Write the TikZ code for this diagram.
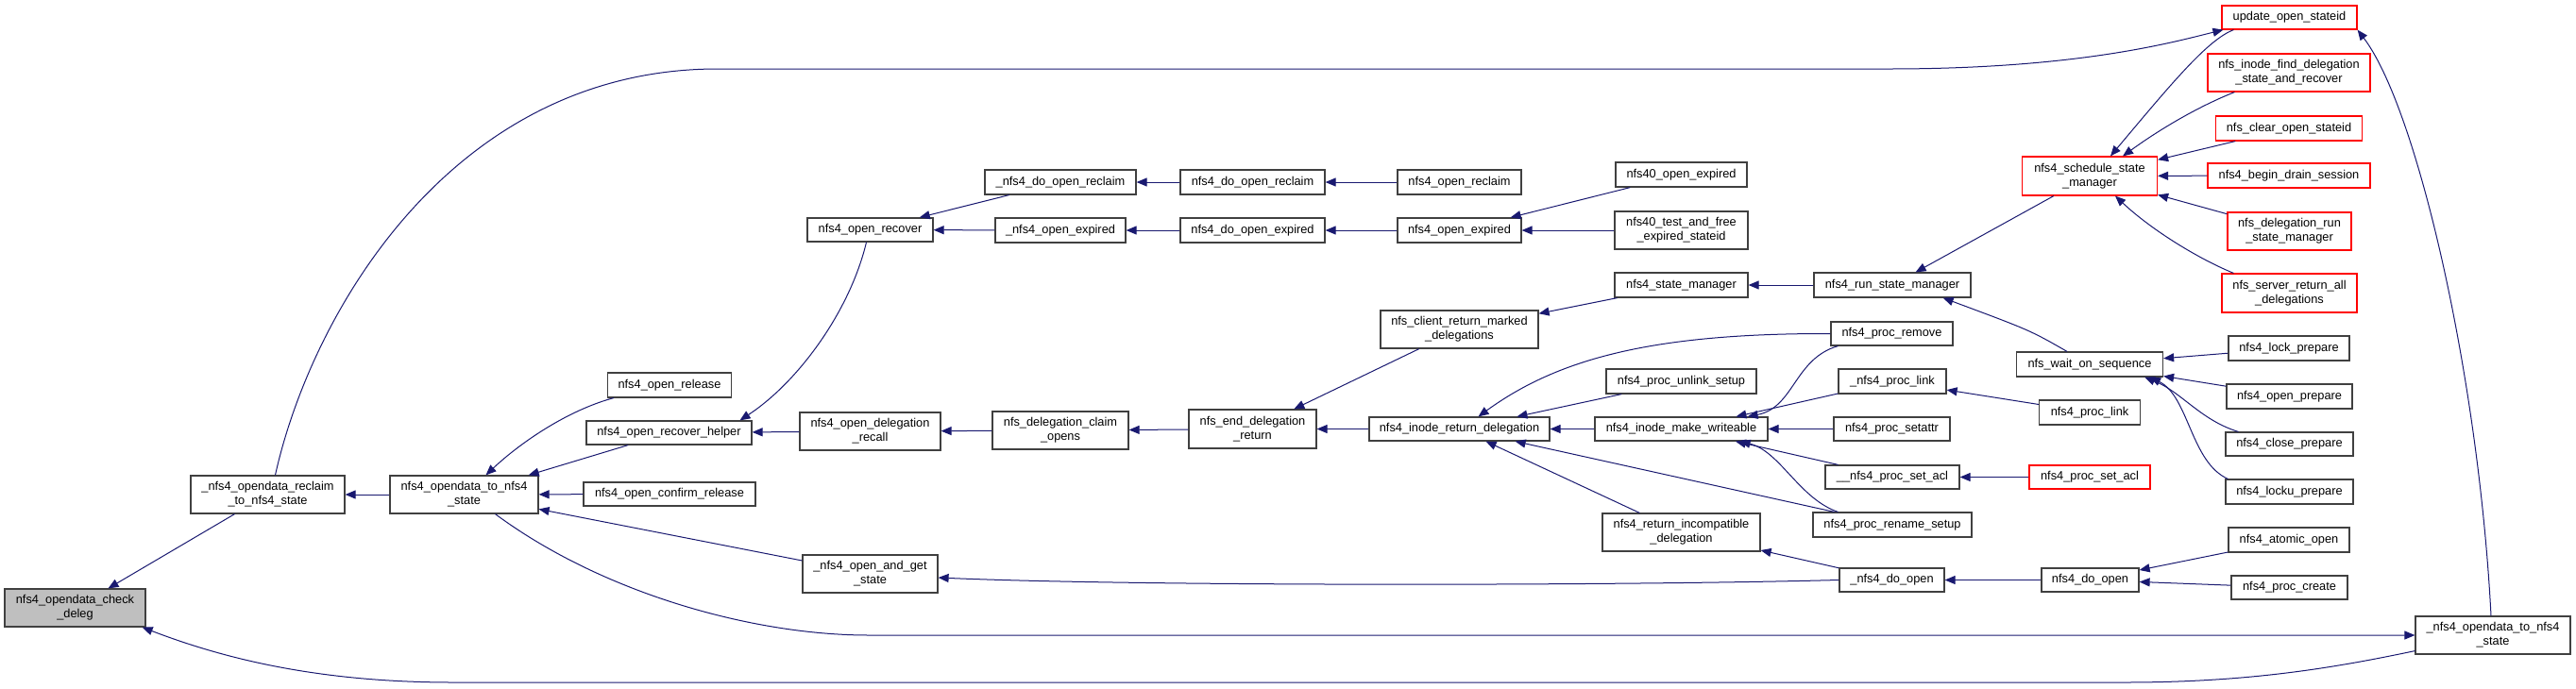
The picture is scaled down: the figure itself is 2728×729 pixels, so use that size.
\documentclass[tikz,border=0pt]{standalone}
\usepackage{fontspec}
\setmainfont{Liberation Sans}
\usetikzlibrary{arrows.meta,calc}
\definecolor{edgec}{RGB}{25,25,112}
\definecolor{boxc}{RGB}{64,64,64}
\definecolor{redc}{RGB}{255,0,0}
\definecolor{grayf}{RGB}{191,191,191}
\tikzset{
  box/.style={draw=boxc, line width=1.2pt, fill=white, inner sep=0pt, align=center,
    font=\fontsize{12.8}{15}\selectfont},
  redbox/.style={box, draw=redc},
  graybox/.style={box, fill=grayf},
  conn/.style={draw=edgec, line width=1pt, -{Triangle[length=11pt,width=9pt]}},
}
\begin{document}
\begin{tikzpicture}[x=1pt,y=-1pt]
\useasboundingbox (0,0) rectangle (2728,729);
% column 1
\node[graybox, minimum width=149pt, minimum height=40pt] (chk) at (79.5,644) {nfs4\_opendata\_check\\\_deleg};
\node[box, minimum width=163pt, minimum height=40pt] (rcl) at (283.5,524) {\_nfs4\_opendata\_reclaim\\\_to\_nfs4\_state};
\node[box, minimum width=157pt, minimum height=40pt] (o2s) at (491.5,524) {nfs4\_opendata\_to\_nfs4\\\_state};
\node[box, minimum width=131pt, minimum height=26pt] (orel) at (709,408) {nfs4\_open\_release};
\node[box, minimum width=175pt, minimum height=25pt] (orh) at (708.5,458.5) {nfs4\_open\_recover\_helper};
\node[box, minimum width=182pt, minimum height=25pt] (ocr) at (709,523.5) {nfs4\_open\_confirm\_release};
\node[box, minimum width=133pt, minimum height=25pt] (orec) at (921.5,243.5) {nfs4\_open\_recover};
\node[box, minimum width=149pt, minimum height=40pt] (odr) at (921.5,457) {nfs4\_open\_delegation\\\_recall};
\node[box, minimum width=143pt, minimum height=40pt] (oag) at (921.5,608) {\_nfs4\_open\_and\_get\\\_state};
\node[box, minimum width=160pt, minimum height=26pt] (udor) at (1123,193) {\_nfs4\_do\_open\_reclaim};
\node[box, minimum width=138pt, minimum height=26pt] (uoex) at (1123,244) {\_nfs4\_open\_expired};
\node[box, minimum width=144pt, minimum height=40pt] (dco) at (1123,456) {nfs\_delegation\_claim\\\_opens};
\node[box, minimum width=153pt, minimum height=26pt] (dor) at (1326.5,193) {nfs4\_do\_open\_reclaim};
\node[box, minimum width=153pt, minimum height=26pt] (doe) at (1326.5,244) {nfs4\_do\_open\_expired};
\node[box, minimum width=135pt, minimum height=41pt] (edr) at (1326.5,454.5) {nfs\_end\_delegation\\\_return};
\node[box, minimum width=131pt, minimum height=26pt] (orcl) at (1545.5,193) {nfs4\_open\_reclaim};
\node[box, minimum width=131pt, minimum height=26pt] (oexp) at (1545.5,244) {nfs4\_open\_expired};
\node[box, minimum width=167pt, minimum height=40pt] (crm) at (1545.5,349) {nfs\_client\_return\_marked\\\_delegations};
\node[box, minimum width=191pt, minimum height=25pt] (ird) at (1545.5,454.5) {nfs4\_inode\_return\_delegation};
\node[box, minimum width=139pt, minimum height=26pt] (o40) at (1780.5,185) {nfs40\_open\_expired};
\node[box, minimum width=141pt, minimum height=40pt] (tfs) at (1780.5,244) {nfs40\_test\_and\_free\\\_expired\_stateid};
\node[box, minimum width=141pt, minimum height=26pt] (sm) at (1780.5,302) {nfs4\_state\_manager};
\node[box, minimum width=159pt, minimum height=26pt] (pus) at (1780.5,404) {nfs4\_proc\_unlink\_setup};
\node[box, minimum width=183pt, minimum height=25pt] (imw) at (1780.5,454.5) {nfs4\_inode\_make\_writeable};
\node[box, minimum width=167pt, minimum height=40pt] (rid) at (1780.5,564) {nfs4\_return\_incompatible\\\_delegation};
\node[box, minimum width=111pt, minimum height=25pt] (udo) at (2003.5,614.5) {\_nfs4\_do\_open};
\node[box, minimum width=166pt, minimum height=26pt] (rsm) at (2004,302) {nfs4\_run\_state\_manager};
\node[box, minimum width=129pt, minimum height=25pt] (prm) at (2003.5,353.5) {nfs4\_proc\_remove};
\node[box, minimum width=114pt, minimum height=26pt] (upl) at (2004,404) {\_nfs4\_proc\_link};
\node[box, minimum width=123pt, minimum height=25pt] (psa) at (2003.5,454.5) {nfs4\_proc\_setattr};
\node[box, minimum width=142pt, minimum height=25pt] (usa) at (2004,505.5) {\_\_nfs4\_proc\_set\_acl};
\node[box, minimum width=168pt, minimum height=26pt] (prs) at (2004,556) {nfs4\_proc\_rename\_setup};
\node[redbox, minimum width=143pt, minimum height=41pt] (ssm) at (2213,186.5) {nfs4\_schedule\_state\\\_manager};
\node[box, minimum width=155pt, minimum height=26pt] (ws) at (2213,386) {nfs\_wait\_on\_sequence};
\node[box, minimum width=107pt, minimum height=26pt] (pl) at (2213,437) {nfs4\_proc\_link};
\node[redbox, minimum width=128pt, minimum height=25pt] (psb) at (2213,505.5) {nfs4\_proc\_set\_acl};
\node[box, minimum width=103pt, minimum height=25pt] (ndo) at (2213.5,614.5) {nfs4\_do\_open};
\node[redbox, minimum width=143pt, minimum height=25pt] (uos) at (2424.5,18.5) {update\_open\_stateid};
\node[redbox, minimum width=172pt, minimum height=40pt] (ifd) at (2424,77) {nfs\_inode\_find\_delegation\\\_state\_and\_recover};
\node[redbox, minimum width=155pt, minimum height=26pt] (cos) at (2424,136) {nfs\_clear\_open\_stateid};
\node[redbox, minimum width=172pt, minimum height=26pt] (bds) at (2424,186) {nfs4\_begin\_drain\_session};
\node[redbox, minimum width=131pt, minimum height=40pt] (drsm) at (2424.5,245) {nfs\_delegation\_run\\\_state\_manager};
\node[redbox, minimum width=143pt, minimum height=41pt] (sra) at (2424.5,310.5) {nfs\_server\_return\_all\\\_delegations};
\node[box, minimum width=128pt, minimum height=26pt] (lp) at (2424,369) {nfs4\_lock\_prepare};
\node[box, minimum width=133pt, minimum height=26pt] (op) at (2424.5,420) {nfs4\_open\_prepare};
\node[box, minimum width=135pt, minimum height=25pt] (cp) at (2424.5,470.5) {nfs4\_close\_prepare};
\node[box, minimum width=135pt, minimum height=26pt] (lup) at (2424.5,521) {nfs4\_locku\_prepare};
\node[box, minimum width=128pt, minimum height=26pt] (ao) at (2424,572) {nfs4\_atomic\_open};
\node[box, minimum width=123pt, minimum height=25pt] (pc) at (2424.5,622.5) {nfs4\_proc\_create};
\node[box, minimum width=164pt, minimum height=40pt] (xo2s) at (2640,673) {\_nfs4\_opendata\_to\_nfs4\\\_state};

% connectors
\draw[conn] (rcl) -- (chk);
\draw[conn] ($(xo2s.south west)+(0,-4)$) .. controls (2470,708) and (2380,723) .. (2250,723) -- (480,723) .. controls (330,723) and (230,695) .. ($(chk.south east)+(-4,0)$);
\draw[conn] (o2s) -- (rcl);
\draw[conn] ($(rcl.north)+(8,0)$) .. controls (330,330) and (480,73) .. (760,73) -- (2000,73) .. controls (2200,73) and (2300,45) .. ($(uos.south west)+(2,0)$);
\draw[conn] ($(orel.south west)+(7,0)$) .. controls (600,435) and (550,470) .. ($(o2s.north)+(23,0)$);
\draw[conn] (orh) -- (o2s);
\draw[conn] (ocr) -- (o2s);
\draw[conn] (oag) -- (o2s);
\draw[conn] ($(o2s.south)+(33,0)$) .. controls (640,630) and (800,673) .. (920,673) -- (xo2s.west);
\draw[conn] ($(orec.south)+(-4,0)$) .. controls (900,330) and (845,405) .. ($(orh.north)+(75,0)$);
\draw[conn] (odr) -- (orh);
\draw[conn] (udor) -- (orec);
\draw[conn] (uoex) -- (orec);
\draw[conn] (dco) -- (odr);
\draw[conn] (edr) -- (dco);
\draw[conn] (dor) -- (udor);
\draw[conn] (doe) -- (uoex);
\draw[conn] (orcl) -- (dor);
\draw[conn] (oexp) -- (doe);
\draw[conn] (crm) -- (edr);
\draw[conn] (ird) -- (edr);
\draw[conn] (o40) -- (oexp);
\draw[conn] (tfs) -- (oexp);
\draw[conn] (sm) -- (crm);
\draw[conn] (rsm) -- (sm);
\draw[conn] (ssm) -- (rsm);
\draw[conn] ($(ws.north)+(-24,0)$) .. controls (2150,350) .. ($(rsm.south east)+(-30,0)$);
\draw[conn] (prm.west) .. controls (1750,353) and (1650,380) .. ($(ird.north)+(20,0)$);
\draw[conn] (pus) -- (ird);
\draw[conn] (imw) -- (ird);
\draw[conn] (prs) -- (ird);
\draw[conn] (rid) -- (ird);
\draw[conn] ($(prm.south west)+(8,0)$) .. controls (1900,380) and (1900,432) .. ($(imw.north east)+(-22,0)$);
\draw[conn] (upl) -- (imw);
\draw[conn] (psa) -- (imw);
\draw[conn] (usa) -- (imw);
\draw[conn] ($(prs.north west)+(27,0)$) .. controls (1905,528) and (1885,478) .. ($(imw.south east)+(-30,0)$);
\draw[conn] (udo) -- (rid);
\draw[conn] (udo.west) .. controls (1700,621) and (1200,621) .. ($(oag.east)+(0,4)$);
\draw[conn] (pl) -- (upl);
\draw[conn] (psb) -- (usa);
\draw[conn] (ndo) -- (udo);
\draw[conn] (lp) -- (ws);
\draw[conn] (op) -- (ws);
\draw[conn] ($(cp.north west)+(14,0)$) .. controls (2330,445) and (2310,415) .. ($(ws.south east)+(-20,0)$);
\draw[conn] ($(lup.north west)+(3,0)$) .. controls (2320,490) and (2318,420) .. ($(ws.south east)+(-14,0)$);
\draw[conn] (ao) -- (ndo);
\draw[conn] (pc) -- (ndo);
\draw[conn] ($(uos.south west)+(13,0)$) .. controls (2338,42) and (2300,88) .. ($(ssm.north)+(22,0)$);
\draw[conn] ($(ifd.south west)+(29,0)$) .. controls (2330,112) and (2290,135) .. ($(ssm.north)+(35,0)$);
\draw[conn] (cos) -- (ssm);
\draw[conn] (bds) -- (ssm);
\draw[conn] (drsm) -- (ssm);
\draw[conn] ($(sra.north west)+(13,0)$) .. controls (2330,275) and (2280,245) .. ($(ssm.south)+(27,0)$);
\draw[conn] ($(xo2s.north)+(-2,0)$) .. controls (2625,400) and (2560,115) .. (uos.south east);
\end{tikzpicture}
\end{document}
